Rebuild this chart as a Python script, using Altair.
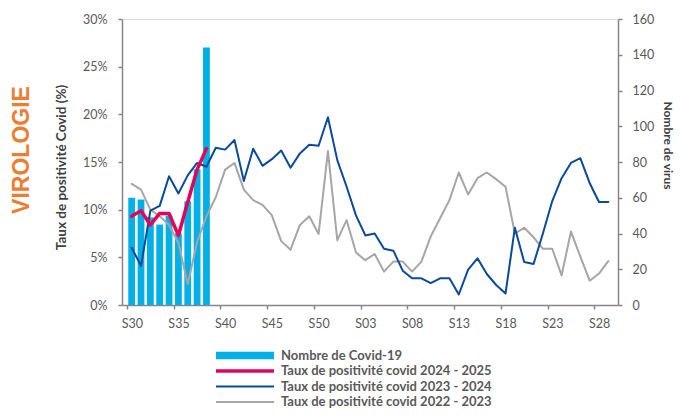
import altair as alt
import pandas as pd

weeks = ["S30", "S31", "S32", "S33", "S34", "S35", "S36", "S37", "S38", "S39",
         "S40", "S41", "S42", "S43", "S44", "S45", "S46", "S47", "S48", "S49",
         "S50", "S51", "S52", "S01", "S02", "S03", "S04", "S05", "S06", "S07",
         "S08", "S09", "S10", "S11", "S12", "S13", "S14", "S15", "S16", "S17",
         "S18", "S19", "S20", "S21", "S22", "S23", "S24", "S25", "S26", "S27",
         "S28", "S29"]

# Nombre de Covid-19 (right axis), weeks S30..S38
covid_count = [60, 59, 49, 45, 50, 40, 58, 76, 144]

# Taux de positivité (%)
taux_2024_2025 = [9.3, 9.9, 8.4, 9.6, 9.6, 7.3, 10.8, 14.2, 16.4]

taux_2023_2024 = [6.0, 4.1, 9.9, 10.4, 13.5, 11.7, 13.6, 14.9, 14.5, 16.5,
                  16.3, 17.3, 13.0, 16.4, 14.6, 15.3, 16.2, 14.4, 15.9, 16.8,
                  16.7, 19.7, 15.2, 12.4, 9.4, 7.3, 7.5, 5.9, 5.7, 3.6,
                  2.8, 2.8, 2.3, 2.8, 2.8, 1.1, 3.7, 4.9, 3.25, 2.1,
                  1.2, 8.1, 4.5, 4.3, 7.5, 10.9, 13.3, 14.9, 15.4, 12.8,
                  10.8, 10.8]

taux_2022_2023 = [12.7, 12.1, 10.0, 9.3, 8.4, 6.5, 2.2, 6.6, 9.3, 11.3,
                  14.2, 14.9, 12.1, 11.0, 10.5, 9.4, 6.7, 5.8, 8.4, 9.3,
                  7.45, 16.15, 6.8, 8.9, 5.5, 4.7, 5.35, 3.5, 4.55, 4.55,
                  3.5, 4.55, 7.2, 9.1, 11.0, 13.9, 11.6, 13.3, 13.9, 13.2,
                  12.4, 7.5, 8.1, 7.1, 5.9, 5.9, 3.1, 7.7, 5.1, 2.55,
                  3.3, 4.6]

series_names = ["Nombre de Covid-19",
                "Taux de positivité covid 2024 - 2025",
                "Taux de positivité covid 2023 - 2024",
                "Taux de positivité covid 2022 - 2023"]
series_colors = ["#00B0E6", "#E6005A", "#0A4A9A", "#A6A6A6"]
series_widths = [7.5, 3.5, 2, 2]

left_ticks = [0, 5, 10, 15, 20, 25, 30]
right_ticks = [0, 20, 40, 60, 80, 100, 120, 140, 160]

# ---------------------------------------------------------------
def make_df(values, name, col):
    return pd.DataFrame({
        "idx": list(range(len(values))),
        "week": weeks[:len(values)],
        col: values,
        "serie": [name] * len(values),
    })

bar_df = make_df(covid_count, series_names[0], "count")
red_df = make_df(taux_2024_2025, series_names[1], "pct")
blue_df = make_df(taux_2023_2024, series_names[2], "pct")
gray_df = make_df(taux_2022_2023, series_names[3], "pct")

FONT = "Lato"
AXIS_GRAY = "#868686"
LABEL_GRAY = "#595959"
TITLE_GRAY = "#404040"

n = len(weeks)
step = 496 / n
week_js = "[" + ",".join("'" + w + "'" for w in weeks) + "]"
boundary_values = [i - 0.5 for i in range(0, n, 5)]

x_enc = alt.X(
    "idx:Q",
    scale=alt.Scale(domain=[-0.5, n - 0.5], nice=False, zero=False),
    axis=alt.Axis(
        values=boundary_values,
        labelExpr=week_js + "[round(datum.value + 0.5)]",
        labelOffset=step / 2,
        title=None, grid=False,
        domainColor=AXIS_GRAY, domainWidth=1.5,
        tickColor=AXIS_GRAY, tickWidth=1.5, tickSize=4,
        labelFont=FONT, labelFontSize=12.5, labelColor=LABEL_GRAY,
        labelPadding=8, labelOverlap=False, labelBound=False, labelFlush=False,
    ),
)

legend = alt.Legend(
    title=None, orient="none", legendX=90, legendY=330, direction="vertical",
    symbolType="stroke", symbolSize=3364, clipHeight=13,
    labelFont=FONT, labelFontSize=13, labelFontWeight="bold", labelLimit=400,
    labelColor=LABEL_GRAY, labelOffset=3, rowPadding=1.5, padding=0,
)

# bars get their own fill scale (single entry) so that it does not absorb the legend
fill_enc = alt.Fill("serie:N",
                    scale=alt.Scale(domain=series_names[:1], range=series_colors[:1]),
                    legend=None)
stroke_enc = alt.Stroke("serie:N",
                        scale=alt.Scale(domain=series_names, range=series_colors),
                        legend=legend)
width_enc = alt.StrokeWidth("serie:N",
                            scale=alt.Scale(type="ordinal", domain=series_names,
                                            range=series_widths),
                            legend=legend)

bars = alt.Chart(bar_df).mark_bar(size=6.8, strokeWidth=0).encode(
    x=x_enc,
    y=alt.Y("count:Q", scale=alt.Scale(domain=[0, 160], nice=False),
            axis=alt.Axis(
                orient="right", values=right_ticks, grid=False,
                title="Nombre de virus", titleAngle=90, titleX=49, titleY=126,
                titleAlign="center", titleBaseline="middle",
                titleFont=FONT, titleFontSize=12, titleFontWeight="bold",
                titleColor=TITLE_GRAY,
                domainColor=AXIS_GRAY, domainWidth=1.5,
                tickColor=AXIS_GRAY, tickWidth=1.5, tickSize=4,
                labelFont=FONT, labelFontSize=12.5, labelColor=LABEL_GRAY,
                labelPadding=10)),
    fill=fill_enc,
)

y_pct = alt.Y("pct:Q", scale=alt.Scale(domain=[0, 30], nice=False),
              axis=alt.Axis(
                  orient="left", values=left_ticks, grid=False,
                  labelExpr="datum.value + '%'",
                  title="Taux de positivité Covid (%)", titleX=-61, titleY=148,
                  titleAlign="center", titleBaseline="middle",
                  titleFont=FONT, titleFontSize=13.5, titleFontWeight="bold",
                  titleColor=TITLE_GRAY,
                  domainColor=AXIS_GRAY, domainWidth=1.5,
                  tickColor=AXIS_GRAY, tickWidth=1.5, tickSize=4,
                  labelFont=FONT, labelFontSize=12.5, labelColor=LABEL_GRAY,
                  labelPadding=11))

def line_layer(df):
    return alt.Chart(df).mark_line(strokeJoin="round", strokeCap="round").encode(
        x=x_enc, y=y_pct, stroke=stroke_enc, strokeWidth=width_enc,
        order="idx:Q")

lines = alt.layer(line_layer(gray_df), line_layer(blue_df), line_layer(red_df))

chart = alt.layer(bars, lines).resolve_scale(y="independent").properties(
    width=496, height=286,
    autosize=alt.AutoSizeParams(type="none"),
    padding={"left": 114, "top": 11, "right": 56, "bottom": 103},
    title=alt.TitleParams(
        text="VIROLOGIE", orient="left", anchor="middle", color="#ED7D31",
        font="Liberation Sans", fontSize=23, fontWeight="bold", offset=20,
        dx=12),
).configure_view(stroke=None).configure(background="white")

chart.save("out.html", embed_options={"renderer": "svg", "actions": False})
